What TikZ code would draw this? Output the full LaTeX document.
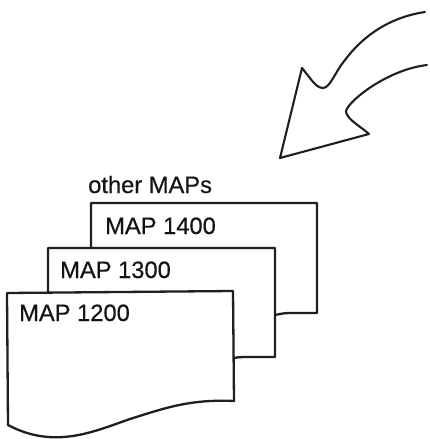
\documentclass[tikz,border=0pt]{standalone}
\usepackage{fontspec}
\setmainfont[FakeBold=0.45]{Liberation Sans}
\tikzset{
  outline/.style={draw=black!88,line width=2.3pt,line join=round,line cap=round},
  sheet/.style={outline,fill=white},
  label/.style={anchor=base west,inner sep=0pt,font=\fontsize{23.7}{26}\selectfont,text=black!92}
}
\begin{document}
\begin{tikzpicture}[x=1pt,y=-1pt]
\useasboundingbox (0,0) rectangle (430,439);
% sweeping arrow
\draw[outline,line width=2.1pt] (425,12) .. controls (385,18) and (360,40) .. (345,60)
  .. controls (335,72) and (330,88) .. (323,88)
  .. controls (316,88) and (311,79) .. (302,68)
  -- (280,158) -- (369,134)
  .. controls (360,126) and (348,120) .. (346,112)
  .. controls (345,104) and (385,70) .. (427,65);
% sheets, back to front
\draw[sheet] (91,247) -- (91,203) -- (317,203) -- (317,313) -- (290,313)
  .. controls (284,313) and (280,314) .. (275,315);
\draw[sheet] (48,292) -- (48,248) -- (275,248) -- (275,357) -- (250,357)
  .. controls (243,357) and (239,357) .. (234,358);
\draw[sheet] (7,293) -- (233,291) -- (234,401)
  .. controls (190,399) and (165,408) .. (130,419)
  .. controls (95,431) and (55,450) .. (8,425) -- cycle;
% labels
\node[label] (other) at (88,193) {other MAPs};
\node[label] (m14) at (105,234) {MAP 1400};
\node[label] (m13) at (60,278) {MAP 1300};
\node[label] (m12) at (19,321) {MAP 1200};
\end{tikzpicture}
\end{document}
